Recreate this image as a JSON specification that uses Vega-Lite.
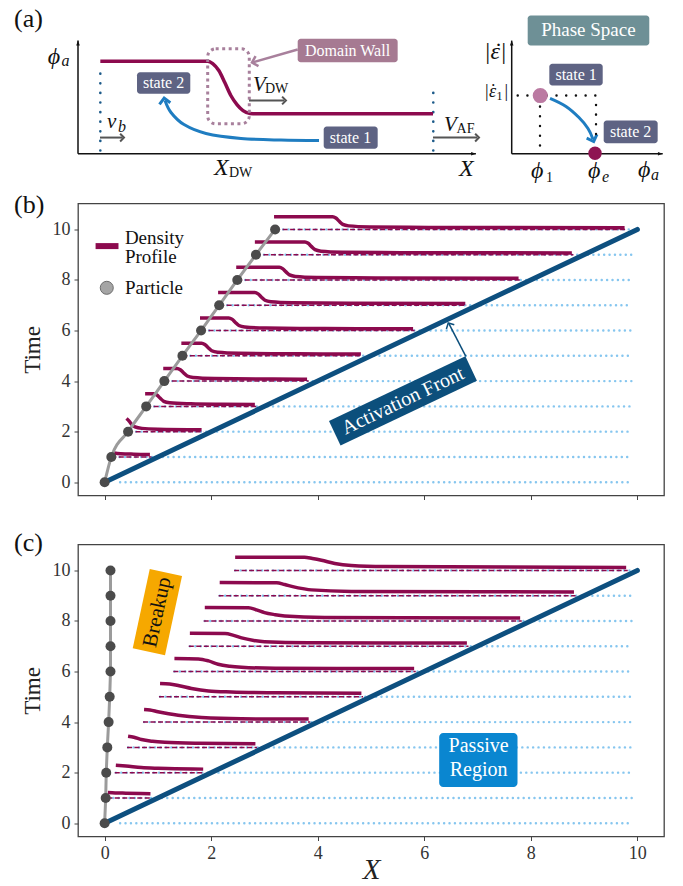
{
"$schema": "https://vega.github.io/schema/vega-lite/v6.json",
"padding": {"left": 13, "top": 5.5, "right": 5, "bottom": 0},
"spacing": 49,
"bounds": "flush",
"config": {
  "font": "Liberation Serif",
  "view": {"stroke": "#444", "strokeWidth": 1.3},
  "axis": {"domain": false, "grid": false, "tickColor": "#444", "tickSize": 4, "tickWidth": 1, "labelFont": "Liberation Serif", "labelFontSize": 18, "labelColor": "#333", "labelPadding": 4, "titleFont": "Liberation Serif", "titleFontWeight": "normal", "titleColor": "#222"}
},
"vconcat": [
{
  "width": 586, "height": 146,
  "view": {"stroke": null},
  "encoding": {
    "x": {"field": "x", "type": "quantitative", "scale": {"domain": [0, 100], "nice": false, "zero": false}, "axis": null},
    "y": {"field": "y", "type": "quantitative", "scale": {"domain": [0, 100], "nice": false, "zero": false}, "axis": null}
  },
  "layer": [
    {"data": {"values": [{"x": 0, "y": 0.5, "x2": 67.9, "y2": 0.5}, {"x": 0, "y": 0.5, "x2": 0, "y2": 78}, {"x": 74.01, "y": 0.5, "x2": 99.78, "y2": 0.5}, {"x": 74.01, "y": 0.5, "x2": 74.01, "y2": 78}]},
     "mark": {"type": "rule", "color": "#111", "strokeWidth": 1.5},
     "encoding": {"x2": {"field": "x2"}, "y2": {"field": "y2"}}},
    {"data": {"values": [{"x": 0, "y": 78}, {"x": 74.01, "y": 78}]},
     "mark": {"type": "point", "shape": "M0,0L-0.6,1.6L0.6,1.6Z", "filled": true, "color": "#111", "size": 36, "opacity": 1}},
    {"data": {"values": [{"x": 67.9, "y": 0.5}, {"x": 99.78, "y": 0.5}]},
     "mark": {"type": "point", "shape": "M0,0L-0.6,1.6L0.6,1.6Z", "filled": true, "color": "#111", "size": 36, "angle": 90, "opacity": 1}},
    {"data": {"values": [{"x": 3.81, "y": 2.7, "y2": 61.6}, {"x": 60.63, "y": 2.7, "y2": 45.2}]},
     "mark": {"type": "rule", "color": "#1d5b8a", "strokeWidth": 2.6, "strokeDash": [0.1, 9.5], "strokeCap": "round"},
     "encoding": {"y2": {"field": "y2"}}},
    {"data": {"values": [{"x": 3.81, "y": 63.9}, {"x": 22.13, "y": 63.9}, {"x": 22.99, "y": 62.3}, {"x": 24.03, "y": 57.5}, {"x": 25.05, "y": 49.3}, {"x": 26.08, "y": 40.4}, {"x": 27.13, "y": 34.2}, {"x": 28.16, "y": 30.1}, {"x": 29.35, "y": 28.1}, {"x": 31.23, "y": 27.9}, {"x": 60.58, "y": 27.9}]},
     "mark": {"type": "line", "color": "#8c0a4e", "strokeWidth": 3.5, "interpolate": "monotone"}},
    {"data": {"values": [{"x": 22.13, "x2": 29.23, "y": 21.0, "y2": 72.4}]},
     "mark": {"type": "rect", "fill": "transparent", "stroke": "#a8809c", "strokeWidth": 3, "strokeDash": [3, 3.5], "cornerRadius": 8},
     "encoding": {"x2": {"field": "x2"}, "y2": {"field": "y2"}}},
    {"data": {"values": [{"x": 3.75, "x2": 7.6, "y": 11.6}, {"x": 29.18, "x2": 35.2, "y": 37}, {"x": 60.58, "x2": 68.1, "y": 11.6}]},
     "mark": {"type": "rule", "color": "#555", "strokeWidth": 2},
     "encoding": {"x2": {"field": "x2"}}},
    {"data": {"values": [{"x": 7.85, "y": 11.6}, {"x": 35.49, "y": 37}, {"x": 68.43, "y": 11.6}]},
     "mark": {"type": "point", "shape": "M-1,1L0,0L1,1", "filled": false, "color": "#555", "strokeWidth": 2, "size": 60, "angle": 90, "opacity": 1}},
    {"data": {"values": [{"x": 37.49, "y": 71.9, "x2": 29.9, "y2": 63.2}]},
     "mark": {"type": "rule", "color": "#a8809c", "strokeWidth": 2.5},
     "encoding": {"x2": {"field": "x2"}, "y2": {"field": "y2"}}},
    {"data": {"values": [{"x": 29.69, "y": 63.0}]},
     "mark": {"type": "point", "shape": "M-1,1L0,0L1,1", "filled": false, "color": "#a8809c", "strokeWidth": 2.5, "size": 110, "angle": 254, "opacity": 1}},
    {"data": {"values": [
       {"kind": "wall", "x": 37.49, "x2": 54.55, "y": 63.2, "y2": 79.2},
       {"kind": "state", "x": 10.07, "x2": 19.16, "y": 41.6, "y2": 56.4},
       {"kind": "state", "x": 41.93, "x2": 51.14, "y": 3.9, "y2": 19.2},
       {"kind": "phase", "x": 76.74, "x2": 97.49, "y": 74.7, "y2": 95.2},
       {"kind": "state", "x": 80.43, "x2": 89.54, "y": 47.3, "y2": 62.1},
       {"kind": "state", "x": 89.71, "x2": 98.92, "y": 7.7, "y2": 23.3}]},
     "mark": {"type": "rect", "cornerRadius": 3},
     "encoding": {"x2": {"field": "x2"}, "y2": {"field": "y2"},
       "fill": {"field": "kind", "type": "nominal", "scale": {"domain": ["wall", "state", "phase"], "range": ["#a67a92", "#5e6383", "#6e9096"]}, "legend": null}}},
    {"data": {"values": [
       {"x": 46.0, "y": 71.2, "text": "Domain Wall"},
       {"x": 14.6, "y": 49.0, "text": "state 2"},
       {"x": 46.5, "y": 11.5, "text": "state 1"},
       {"x": 85.0, "y": 54.7, "text": "state 1"},
       {"x": 94.3, "y": 15.5, "text": "state 2"}]},
     "mark": {"type": "text", "font": "Liberation Serif", "fontSize": 16, "color": "white", "align": "center", "baseline": "middle"},
     "encoding": {"text": {"field": "text"}}},
    {"data": {"values": [{"x": 87.1, "y": 85, "text": "Phase Space"}]},
     "mark": {"type": "text", "font": "Liberation Serif", "fontSize": 19, "color": "white", "align": "center", "baseline": "middle"},
     "encoding": {"text": {"field": "text"}}},
    {"data": {"values": [
       {"curve": "left", "i": 1, "x": 41.13, "y": 9.6}, {"curve": "left", "i": 2, "x": 34.64, "y": 9.9}, {"curve": "left", "i": 3, "x": 27.82, "y": 11.0}, {"curve": "left", "i": 4, "x": 21.84, "y": 14.4}, {"curve": "left", "i": 5, "x": 18.09, "y": 20.5}, {"curve": "left", "i": 6, "x": 15.87, "y": 28.8}, {"curve": "left", "i": 7, "x": 14.85, "y": 37.0},
       {"curve": "right", "i": 1, "x": 80.55, "y": 38.4}, {"curve": "right", "i": 2, "x": 83.28, "y": 32.9}, {"curve": "right", "i": 3, "x": 85.49, "y": 25.3}, {"curve": "right", "i": 4, "x": 87.03, "y": 17.8}, {"curve": "right", "i": 5, "x": 87.88, "y": 10.5}]},
     "mark": {"type": "line", "color": "#1f7dc1", "strokeWidth": 3, "interpolate": "cardinal"},
     "encoding": {"detail": {"field": "curve"}, "order": {"field": "i", "type": "quantitative"}}},
    {"data": {"values": [{"x": 14.7, "y": 38.6}]},
     "mark": {"type": "point", "shape": "M-1,1L0,0L1,1", "filled": false, "color": "#1f7dc1", "strokeWidth": 3, "size": 120, "angle": -8, "opacity": 1}},
    {"data": {"values": [{"x": 88.0, "y": 8.9}]},
     "mark": {"type": "point", "shape": "M-1,1L0,0L1,1", "filled": false, "color": "#1f7dc1", "strokeWidth": 3, "size": 120, "angle": 160, "opacity": 1}},
    {"data": {"values": [{"x": 75.03, "y": 40.4, "x2": 88.74, "y2": 40.4}, {"x": 78.84, "y": 6.2, "x2": 78.84, "y2": 40.4}, {"x": 88.4, "y": 14.0, "x2": 88.4, "y2": 40.4}]},
     "mark": {"type": "rule", "color": "#111", "strokeWidth": 2.4, "strokeDash": [0.1, 9.6], "strokeCap": "round"},
     "encoding": {"x2": {"field": "x2"}, "y2": {"field": "y2"}}},
    {"data": {"values": [{"x": 78.89, "y": 40.4}]},
     "mark": {"type": "point", "filled": true, "color": "#bb7aa2", "size": 230, "opacity": 1}},
    {"data": {"values": [{"x": 88.23, "y": 0.9}]},
     "mark": {"type": "point", "filled": true, "color": "#8e1552", "size": 180, "opacity": 1}},
    {"data": {"values": [{"x": -5.17, "y": 62.1, "text": "ϕ"}, {"x": 65.0, "y": -14.9, "text": "X"}, {"x": 23.2, "y": -13.7, "text": "X"}, {"x": 77.3, "y": -15.8, "text": "ϕ"}, {"x": 87.03, "y": -15.8, "text": "ϕ"}, {"x": 95.56, "y": -15.1, "text": "ϕ"}, {"x": 69.28, "y": 65.1, "text": "|ε|"}]},
     "mark": {"type": "text", "font": "Liberation Serif", "fontStyle": "italic", "fontSize": 24, "color": "#111", "align": "left", "baseline": "alphabetic"},
     "encoding": {"text": {"field": "text"}}},
    {"data": {"values": [{"x": 71.75, "y": 65.1, "text": "˙"}]},
     "mark": {"type": "text", "font": "Liberation Serif", "fontSize": 24, "color": "#111", "align": "center", "baseline": "alphabetic"},
     "encoding": {"text": {"field": "text"}}},
    {"data": {"values": [{"x": 4.95, "y": 18.3, "text": "v"}, {"x": 29.86, "y": 43.8, "text": "V"}, {"x": 62.46, "y": 16.4, "text": "V"}]},
     "mark": {"type": "text", "font": "Liberation Serif", "fontStyle": "italic", "fontSize": 21, "color": "#111", "align": "left", "baseline": "alphabetic"},
     "encoding": {"text": {"field": "text"}}},
    {"data": {"values": [{"x": -2.82, "y": 60.3, "text": "a"}, {"x": 6.83, "y": 15.75, "text": "b"}, {"x": 89.42, "y": -18.5, "text": "e"}, {"x": 97.78, "y": -17.8, "text": "a"}]},
     "mark": {"type": "text", "font": "Liberation Serif", "fontStyle": "italic", "fontSize": 16, "color": "#111", "align": "left", "baseline": "alphabetic"},
     "encoding": {"text": {"field": "text"}}},
    {"data": {"values": [{"x": 31.9, "y": 41.8, "text": "DW"}, {"x": 64.6, "y": 14.4, "text": "AF"}, {"x": 25.77, "y": -15.1, "text": "DW"}, {"x": 79.86, "y": -18.5, "text": "1"}]},
     "mark": {"type": "text", "font": "Liberation Serif", "fontSize": 14, "color": "#111", "align": "left", "baseline": "alphabetic"},
     "encoding": {"text": {"field": "text"}}},
    {"data": {"values": [{"x": 69.28, "y": 39.2, "text": "|ε"}, {"x": 72.6, "y": 39.2, "text": "|"}]},
     "mark": {"type": "text", "font": "Liberation Serif", "fontStyle": "italic", "fontSize": 18, "color": "#111", "align": "left", "baseline": "alphabetic"},
     "encoding": {"text": {"field": "text"}}},
    {"data": {"values": [{"x": 71.4, "y": 37.0, "text": "1"}]},
     "mark": {"type": "text", "font": "Liberation Serif", "fontSize": 12, "color": "#111", "align": "left", "baseline": "alphabetic"},
     "encoding": {"text": {"field": "text"}}},
    {"data": {"values": [{"x": 70.85, "y": 39.2, "text": "˙"}]},
     "mark": {"type": "text", "font": "Liberation Serif", "fontSize": 18, "color": "#111", "align": "center", "baseline": "alphabetic"},
     "encoding": {"text": {"field": "text"}}},
    {"data": {"values": [{"x": -10.92, "y": 87, "text": "(a)"}]},
     "mark": {"type": "text", "font": "Liberation Serif", "fontSize": 26, "color": "#111", "align": "left", "baseline": "alphabetic"},
     "encoding": {"text": {"field": "text"}}}
  ]
},
{
  "width": 586, "height": 292,
  "encoding": {
    "x": {"field": "x", "type": "quantitative", "scale": {"domain": [-0.5, 10.5], "nice": false, "zero": false}, "axis": {"values": [0, 2, 4, 6, 8, 10], "labels": false, "title": null}},
    "y": {"field": "y", "type": "quantitative", "scale": {"domain": [-0.525, 11.025], "nice": false, "zero": false}, "axis": {"values": [0, 2, 4, 6, 8, 10], "title": "Time", "titleFontSize": 23, "titlePadding": 8}}
  },
  "layer": [
    {"data": {"values": [{"y": 0, "x": 0.29, "x2": 9.9}, {"y": 1, "x": 0.28, "x2": 9.9}, {"y": 2, "x": 0.59, "x2": 9.9}, {"y": 3, "x": 0.93, "x2": 9.9}, {"y": 4, "x": 1.27, "x2": 9.9}, {"y": 5, "x": 1.61, "x2": 9.9}, {"y": 6, "x": 1.96, "x2": 9.9}, {"y": 7, "x": 2.3, "x2": 9.9}, {"y": 8, "x": 2.64, "x2": 9.9}, {"y": 9, "x": 2.99, "x2": 9.9}, {"y": 10, "x": 3.35, "x2": 9.9}]},
     "mark": {"type": "rule", "color": "#86c6ef", "strokeWidth": 2.4, "strokeDash": [0.1, 5.3], "strokeCap": "round"},
     "encoding": {"x2": {"field": "x2"}}},
    {"data": {"values": [{"y": 1, "x": 0.125, "x2": 0.88}, {"y": 2, "x": 0.44, "x2": 1.85}, {"y": 3, "x": 0.78, "x2": 2.85}, {"y": 4, "x": 1.12, "x2": 3.83}, {"y": 5, "x": 1.46, "x2": 4.84}, {"y": 6, "x": 1.81, "x2": 5.82}, {"y": 7, "x": 2.15, "x2": 6.8}, {"y": 8, "x": 2.49, "x2": 7.8}, {"y": 9, "x": 2.84, "x2": 8.8}, {"y": 10, "x": 3.2, "x2": 9.8}]},
     "mark": {"type": "rule", "color": "#8c0a4e", "strokeWidth": 1.5, "strokeDash": [5, 2.5]},
     "encoding": {"x2": {"field": "x2"}}},
    {"data": {"values": [{"x": 0, "y": 0}, {"x": 10, "y": 10}]},
     "mark": {"type": "line", "color": "#0d4f7f", "strokeWidth": 5, "strokeCap": "round"}},
    {"data": {"values": [
      {"t": 1, "x": 0.15, "y": 1.17}, {"t": 1, "x": 0.3, "y": 1.13}, {"t": 1, "x": 0.55, "y": 1.11}, {"t": 1, "x": 0.85, "y": 1.10},
      {"t": 2, "x": 0.41, "y": 2.52}, {"t": 2, "x": 0.46, "y": 2.42}, {"t": 2, "x": 0.51, "y": 2.28}, {"t": 2, "x": 0.57, "y": 2.19}, {"t": 2, "x": 0.7, "y": 2.13}, {"t": 2, "x": 1.0, "y": 2.1}, {"t": 2, "x": 1.82, "y": 2.08},
      {"t": 3, "x": 0.76, "y": 3.5}, {"t": 3, "x": 0.92, "y": 3.5}, {"t": 3, "x": 0.98, "y": 3.45}, {"t": 3, "x": 1.04, "y": 3.33}, {"t": 3, "x": 1.11, "y": 3.2}, {"t": 3, "x": 1.22, "y": 3.14}, {"t": 3, "x": 1.62, "y": 3.1}, {"t": 3, "x": 2.2, "y": 3.08}, {"t": 3, "x": 2.82, "y": 3.07},
      {"t": 4, "x": 1.10, "y": 4.5}, {"t": 4, "x": 1.36, "y": 4.5}, {"t": 4, "x": 1.42, "y": 4.45}, {"t": 4, "x": 1.48, "y": 4.33}, {"t": 4, "x": 1.55, "y": 4.2}, {"t": 4, "x": 1.66, "y": 4.14}, {"t": 4, "x": 2.06, "y": 4.1}, {"t": 4, "x": 3.16, "y": 4.08}, {"t": 4, "x": 3.8, "y": 4.07},
      {"t": 5, "x": 1.44, "y": 5.5}, {"t": 5, "x": 1.82, "y": 5.5}, {"t": 5, "x": 1.88, "y": 5.45}, {"t": 5, "x": 1.94, "y": 5.33}, {"t": 5, "x": 2.01, "y": 5.2}, {"t": 5, "x": 2.12, "y": 5.14}, {"t": 5, "x": 2.52, "y": 5.1}, {"t": 5, "x": 3.62, "y": 5.08}, {"t": 5, "x": 4.81, "y": 5.07},
      {"t": 6, "x": 1.79, "y": 6.5}, {"t": 6, "x": 2.33, "y": 6.5}, {"t": 6, "x": 2.39, "y": 6.45}, {"t": 6, "x": 2.45, "y": 6.33}, {"t": 6, "x": 2.52, "y": 6.2}, {"t": 6, "x": 2.63, "y": 6.14}, {"t": 6, "x": 3.03, "y": 6.1}, {"t": 6, "x": 4.13, "y": 6.08}, {"t": 6, "x": 5.79, "y": 6.07},
      {"t": 7, "x": 2.13, "y": 7.5}, {"t": 7, "x": 2.82, "y": 7.5}, {"t": 7, "x": 2.88, "y": 7.45}, {"t": 7, "x": 2.94, "y": 7.33}, {"t": 7, "x": 3.01, "y": 7.2}, {"t": 7, "x": 3.12, "y": 7.14}, {"t": 7, "x": 3.52, "y": 7.1}, {"t": 7, "x": 4.62, "y": 7.08}, {"t": 7, "x": 6.77, "y": 7.07},
      {"t": 8, "x": 2.47, "y": 8.5}, {"t": 8, "x": 3.28, "y": 8.5}, {"t": 8, "x": 3.34, "y": 8.45}, {"t": 8, "x": 3.40, "y": 8.33}, {"t": 8, "x": 3.47, "y": 8.2}, {"t": 8, "x": 3.58, "y": 8.14}, {"t": 8, "x": 3.98, "y": 8.1}, {"t": 8, "x": 5.08, "y": 8.08}, {"t": 8, "x": 7.77, "y": 8.07},
      {"t": 9, "x": 2.82, "y": 9.5}, {"t": 9, "x": 3.76, "y": 9.5}, {"t": 9, "x": 3.82, "y": 9.45}, {"t": 9, "x": 3.88, "y": 9.33}, {"t": 9, "x": 3.95, "y": 9.2}, {"t": 9, "x": 4.06, "y": 9.14}, {"t": 9, "x": 4.46, "y": 9.1}, {"t": 9, "x": 5.56, "y": 9.08}, {"t": 9, "x": 8.77, "y": 9.07},
      {"t": 10, "x": 3.18, "y": 10.5}, {"t": 10, "x": 4.28, "y": 10.5}, {"t": 10, "x": 4.34, "y": 10.45}, {"t": 10, "x": 4.40, "y": 10.33}, {"t": 10, "x": 4.47, "y": 10.2}, {"t": 10, "x": 4.58, "y": 10.14}, {"t": 10, "x": 4.98, "y": 10.1}, {"t": 10, "x": 6.08, "y": 10.08}, {"t": 10, "x": 9.76, "y": 10.07}]},
     "mark": {"type": "line", "color": "#8c0a4e", "strokeWidth": 3.5, "interpolate": "monotone"},
     "encoding": {"detail": {"field": "t", "type": "nominal"}}},
    {"data": {"values": [{"x": 0, "y": 0}, {"x": 0.125, "y": 1}, {"x": 0.44, "y": 2}, {"x": 0.78, "y": 3}, {"x": 1.12, "y": 4}, {"x": 1.46, "y": 5}, {"x": 1.81, "y": 6}, {"x": 2.15, "y": 7}, {"x": 2.49, "y": 8}, {"x": 2.84, "y": 9}, {"x": 3.2, "y": 10}]},
     "layer": [
       {"mark": {"type": "line", "color": "#9b9b9b", "strokeWidth": 3, "interpolate": "monotone"}},
       {"mark": {"type": "point", "filled": true, "color": "#4b4b4b", "size": 100, "opacity": 1}}
     ]},
    {"data": {"values": [{"x": 4.32, "y": 1.94, "x2": 6.88, "y2": 4.5}]},
     "mark": {"type": "rule", "color": "#0c4f7c", "strokeWidth": 27, "strokeCap": "butt"},
     "encoding": {"x2": {"field": "x2"}, "y2": {"field": "y2"}}},
    {"data": {"values": [{"x": 5.6, "y": 3.22, "text": "Activation Front"}]},
     "mark": {"type": "text", "font": "Liberation Serif", "fontSize": 20, "color": "white", "angle": -25.35, "align": "center", "baseline": "middle"},
     "encoding": {"text": {"field": "text"}}},
    {"data": {"values": [{"x": 6.78, "y": 4.98, "x2": 6.46, "y2": 6.28}]},
     "mark": {"type": "rule", "color": "#0c4f7c", "strokeWidth": 1.5},
     "encoding": {"x2": {"field": "x2"}, "y2": {"field": "y2"}}},
    {"data": {"values": [{"x": 6.45, "y": 6.3}]},
     "mark": {"type": "point", "shape": "M-1,1L0,0L1,1", "filled": false, "color": "#0c4f7c", "strokeWidth": 1.5, "size": 80, "angle": 332, "opacity": 1}},
    {"data": {"values": [{"x": -0.17, "x2": 0.26, "y": 9.34}]},
     "mark": {"type": "rule", "color": "#8c0a4e", "strokeWidth": 6},
     "encoding": {"x2": {"field": "x2"}}},
    {"data": {"values": [{"x": 0.04, "y": 7.69}]},
     "mark": {"type": "point", "filled": true, "color": "#a5a5a5", "stroke": "#6d6d6d", "strokeWidth": 1, "size": 170, "opacity": 1}},
    {"data": {"values": [{"x": 0.38, "y": 9.68, "text": "Density"}, {"x": 0.38, "y": 8.91, "text": "Profile"}, {"x": 0.38, "y": 7.69, "text": "Particle"}]},
     "mark": {"type": "text", "font": "Liberation Serif", "fontSize": 19, "color": "#111", "align": "left", "baseline": "middle"},
     "encoding": {"text": {"field": "text"}}},
    {"data": {"values": [{"x": -1.7, "y": 10.66, "text": "(b)"}]},
     "mark": {"type": "text", "font": "Liberation Serif", "fontSize": 26, "color": "#111", "align": "left", "baseline": "alphabetic"},
     "encoding": {"text": {"field": "text"}}}
  ]
},
{
  "width": 586, "height": 292,
  "encoding": {
    "x": {"field": "x", "type": "quantitative", "scale": {"domain": [-0.5, 10.5], "nice": false, "zero": false}, "axis": {"values": [0, 2, 4, 6, 8, 10], "title": "X", "titleFontStyle": "italic", "titleFontSize": 29, "titlePadding": -7}},
    "y": {"field": "y", "type": "quantitative", "scale": {"domain": [-0.525, 11.025], "nice": false, "zero": false}, "axis": {"values": [0, 2, 4, 6, 8, 10], "title": "Time", "titleFontSize": 23, "titlePadding": 8}}
  },
  "layer": [
    {"data": {"values": [{"y": 0, "x": 0.29, "x2": 9.9}, {"y": 1, "x": 0.06, "x2": 9.9}, {"y": 2, "x": 0.21, "x2": 9.9}, {"y": 3, "x": 0.44, "x2": 9.9}, {"y": 4, "x": 0.74, "x2": 9.9}, {"y": 5, "x": 1.04, "x2": 9.9}, {"y": 6, "x": 1.31, "x2": 9.9}, {"y": 7, "x": 1.6, "x2": 9.9}, {"y": 8, "x": 1.88, "x2": 9.9}, {"y": 9, "x": 2.16, "x2": 9.9}, {"y": 10, "x": 2.45, "x2": 9.9}]},
     "mark": {"type": "rule", "color": "#86c6ef", "strokeWidth": 2.4, "strokeDash": [0.1, 5.3], "strokeCap": "round"},
     "encoding": {"x2": {"field": "x2"}}},
    {"data": {"values": [{"y": 1, "x": 0.05, "x2": 0.88}, {"y": 2, "x": 0.19, "x2": 1.88}, {"y": 3, "x": 0.42, "x2": 2.86}, {"y": 4, "x": 0.72, "x2": 3.86}, {"y": 5, "x": 1.02, "x2": 4.85}, {"y": 6, "x": 1.29, "x2": 5.84}, {"y": 7, "x": 1.58, "x2": 6.83}, {"y": 8, "x": 1.86, "x2": 7.83}, {"y": 9, "x": 2.14, "x2": 8.84}, {"y": 10, "x": 2.43, "x2": 9.82}]},
     "mark": {"type": "rule", "color": "#8c0a4e", "strokeWidth": 1.5, "strokeDash": [5, 2.5]},
     "encoding": {"x2": {"field": "x2"}}},
    {"data": {"values": [{"x": 0, "y": 0}, {"x": 10, "y": 10}]},
     "mark": {"type": "line", "color": "#0d4f7f", "strokeWidth": 5, "strokeCap": "round"}},
    {"data": {"values": [
      {"t": 1, "x": 0.06, "y": 1.22}, {"t": 1, "x": 0.2, "y": 1.2}, {"t": 1, "x": 0.4, "y": 1.19}, {"t": 1, "x": 0.86, "y": 1.17},
      {"t": 2, "x": 0.21, "y": 2.29}, {"t": 2, "x": 0.4, "y": 2.26}, {"t": 2, "x": 0.69, "y": 2.2}, {"t": 2, "x": 1.0, "y": 2.17}, {"t": 2, "x": 1.32, "y": 2.15}, {"t": 2, "x": 1.85, "y": 2.14},
      {"t": 3, "x": 0.44, "y": 3.44}, {"t": 3, "x": 0.55, "y": 3.4}, {"t": 3, "x": 0.69, "y": 3.31}, {"t": 3, "x": 0.9, "y": 3.24}, {"t": 3, "x": 1.13, "y": 3.2}, {"t": 3, "x": 1.75, "y": 3.16}, {"t": 3, "x": 2.83, "y": 3.14},
      {"t": 4, "x": 0.74, "y": 4.5}, {"t": 4, "x": 0.85, "y": 4.48}, {"t": 4, "x": 1.0, "y": 4.41}, {"t": 4, "x": 1.2, "y": 4.33}, {"t": 4, "x": 1.38, "y": 4.27}, {"t": 4, "x": 1.82, "y": 4.18}, {"t": 4, "x": 2.57, "y": 4.13}, {"t": 4, "x": 3.83, "y": 4.12},
      {"t": 5, "x": 1.04, "y": 5.53}, {"t": 5, "x": 1.22, "y": 5.51}, {"t": 5, "x": 1.4, "y": 5.44}, {"t": 5, "x": 1.63, "y": 5.33}, {"t": 5, "x": 1.95, "y": 5.23}, {"t": 5, "x": 2.38, "y": 5.19}, {"t": 5, "x": 3.2, "y": 5.16}, {"t": 5, "x": 4.82, "y": 5.14},
      {"t": 6, "x": 1.31, "y": 6.52}, {"t": 6, "x": 1.76, "y": 6.5}, {"t": 6, "x": 1.95, "y": 6.42}, {"t": 6, "x": 2.13, "y": 6.29}, {"t": 6, "x": 2.35, "y": 6.21}, {"t": 6, "x": 2.57, "y": 6.17}, {"t": 6, "x": 3.2, "y": 6.13}, {"t": 6, "x": 5.81, "y": 6.12},
      {"t": 7, "x": 1.6, "y": 7.51}, {"t": 7, "x": 2.26, "y": 7.5}, {"t": 7, "x": 2.42, "y": 7.43}, {"t": 7, "x": 2.57, "y": 7.33}, {"t": 7, "x": 2.8, "y": 7.23}, {"t": 7, "x": 3.0, "y": 7.18}, {"t": 7, "x": 3.82, "y": 7.14}, {"t": 7, "x": 6.8, "y": 7.13},
      {"t": 8, "x": 1.88, "y": 8.53}, {"t": 8, "x": 2.7, "y": 8.52}, {"t": 8, "x": 2.85, "y": 8.44}, {"t": 8, "x": 3.0, "y": 8.33}, {"t": 8, "x": 3.2, "y": 8.25}, {"t": 8, "x": 3.38, "y": 8.2}, {"t": 8, "x": 4.13, "y": 8.14}, {"t": 8, "x": 7.8, "y": 8.12},
      {"t": 9, "x": 2.16, "y": 9.52}, {"t": 9, "x": 3.23, "y": 9.51}, {"t": 9, "x": 3.38, "y": 9.44}, {"t": 9, "x": 3.55, "y": 9.35}, {"t": 9, "x": 3.72, "y": 9.28}, {"t": 9, "x": 3.88, "y": 9.23}, {"t": 9, "x": 4.63, "y": 9.17}, {"t": 9, "x": 8.81, "y": 9.15},
      {"t": 10, "x": 2.45, "y": 10.52}, {"t": 10, "x": 3.75, "y": 10.52}, {"t": 10, "x": 3.9, "y": 10.47}, {"t": 10, "x": 4.07, "y": 10.4}, {"t": 10, "x": 4.32, "y": 10.27}, {"t": 10, "x": 4.63, "y": 10.19}, {"t": 10, "x": 5.25, "y": 10.15}, {"t": 10, "x": 9.79, "y": 10.12}]},
     "mark": {"type": "line", "color": "#8c0a4e", "strokeWidth": 3.5, "interpolate": "monotone"},
     "encoding": {"detail": {"field": "t", "type": "nominal"}}},
    {"data": {"values": [{"x": 0, "y": 0}, {"x": 0.02, "y": 1}, {"x": 0.03, "y": 2}, {"x": 0.05, "y": 3}, {"x": 0.075, "y": 4}, {"x": 0.095, "y": 5}, {"x": 0.11, "y": 6}, {"x": 0.11, "y": 7}, {"x": 0.11, "y": 8}, {"x": 0.11, "y": 9}, {"x": 0.11, "y": 10}]},
     "layer": [
       {"mark": {"type": "line", "color": "#9b9b9b", "strokeWidth": 3}, "encoding": {"order": {"field": "y", "type": "quantitative"}}},
       {"mark": {"type": "point", "filled": true, "color": "#4b4b4b", "size": 100, "opacity": 1}}
     ]},
    {"data": {"values": [{"x": 0.83, "y": 6.78, "x2": 1.15, "y2": 9.92}]},
     "mark": {"type": "rule", "color": "#f6a800", "strokeWidth": 33, "strokeCap": "butt"},
     "encoding": {"x2": {"field": "x2"}, "y2": {"field": "y2"}}},
    {"data": {"values": [{"x": 0.99, "y": 8.35, "text": "Breakup"}]},
     "mark": {"type": "text", "font": "Liberation Serif", "fontSize": 21, "color": "#111", "angle": -77.75, "align": "center", "baseline": "middle"},
     "encoding": {"text": {"field": "text"}}},
    {"data": {"values": [{"x": 6.28, "x2": 7.75, "y": 1.43, "y2": 3.57}]},
     "mark": {"type": "rect", "color": "#0a86d0", "cornerRadius": 4},
     "encoding": {"x2": {"field": "x2"}, "y2": {"field": "y2"}}},
    {"data": {"values": [{"x": 7.02, "y": 3.04, "text": "Passive"}, {"x": 7.02, "y": 2.09, "text": "Region"}]},
     "mark": {"type": "text", "font": "Liberation Serif", "fontSize": 20, "color": "white", "align": "center", "baseline": "middle"},
     "encoding": {"text": {"field": "text"}}},
    {"data": {"values": [{"x": -1.7, "y": 10.75, "text": "(c)"}]},
     "mark": {"type": "text", "font": "Liberation Serif", "fontSize": 26, "color": "#111", "align": "left", "baseline": "alphabetic"},
     "encoding": {"text": {"field": "text"}}}
  ]
}
]
}
